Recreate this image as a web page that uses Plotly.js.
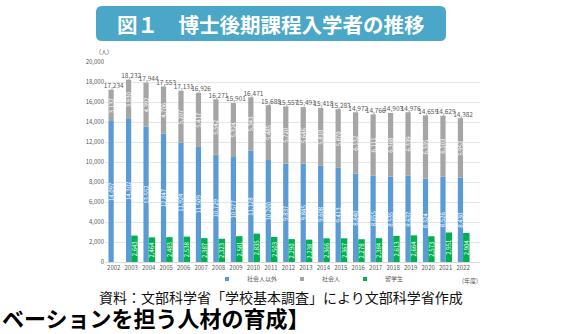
<!DOCTYPE html>
<html>
<head>
<meta charset="utf-8">
<script src="https://cdn.plot.ly/plotly-3.0.1.min.js"></script>
<style>html,body{margin:0;padding:0;background:#fff;}#chart{width:572px;height:334px;}</style>
</head>
<body>
<div id="chart"></div>
<script>
// ---- data ----
const years = ['2002','2003','2004','2005','2006','2007','2008','2009','2010','2011','2012','2013','2014','2015','2016','2017','2018','2019','2020','2021','2022'];
const nonWorking = [14097,14302,13552,12847,11924,11509,10729,10577,11128,10200,9837,9845,9608,9413,8840,8655,8535,8637,8324,8526,8430]; // 社会人以外
const working    = [3137,3930,4392,4706,5207,5417,5542,5324,5343,5485,5720,5646,5810,5870,6132,6111,6368,6339,6335,6103,5952];     // 社会人
const intl       = [null,2643,2464,2483,2538,2387,2323,2581,2835,2503,2290,2238,2366,2367,2278,2384,2613,2664,2573,2951,2904]; // 留学生
const totals     = [17234,18232,17944,17553,17131,16926,16271,15901,16471,15685,15557,15491,15418,15283,14972,14766,14903,14976,14659,14629,14382];
const seriesNames = ['社会人以外','社会人','留学生'];

// ---- helpers (layout only) ----
const W = 572, H = 334, L = 105, R = 92, T = 62, B = 72;
const pw = W - L - R, ph = H - T - B;
const px = x => (x - L) / pw;
const py = y => (H - B - y) / ph;
const fmt = v => v == null ? '' : v.toLocaleString('en-US');
const FONT = 'Noto Sans CJK JP, Noto Sans, sans-serif';
const colors = ['#5B9BD5', '#A5A5A5', '#00B050'];

const inText = {size: 6, color: '#FFFFFF', family: FONT};
const common = {type: 'bar', textposition: 'inside', textangle: -90, insidetextanchor: 'middle',
  constraintext: 'none', insidetextfont: inText, showlegend: false, hoverinfo: 'skip'};

const traces = [
  Object.assign({}, common, {x: years, y: nonWorking, offset: -0.3, width: 0.3,
    marker: {color: colors[0]}, text: nonWorking.map(fmt)}),
  Object.assign({}, common, {x: years, y: working, base: nonWorking, offset: -0.3, width: 0.3,
    marker: {color: colors[1]}, text: working.map(fmt)}),
  Object.assign({}, common, {x: years, y: intl, offset: 0, width: 0.37,
    marker: {color: colors[2]}, text: intl.map(fmt)}),
  {type: 'scatter', mode: 'text', x: years, y: totals, text: totals.map(fmt),
    textposition: 'top center', textfont: {size: 6.5, color: '#595959', family: FONT},
    showlegend: false, hoverinfo: 'skip', cliponaxis: false}
];
seriesNames.forEach((n, i) => traces.push({type: 'scatter', mode: 'markers', x: [null], y: [null],
  name: n, marker: {symbol: 'square', size: 4, color: colors[i]}, showlegend: true}));

// rounded banner path in paper coordinates
function roundRect(x0, y0, x1, y1, r) {
  const X0 = px(x0), X1 = px(x1), Y0 = py(y1), Y1 = py(y0);
  const rx = r / pw, ry = r / ph;
  return `M${X0+rx},${Y0} L${X1-rx},${Y0} Q${X1},${Y0} ${X1},${Y0+ry} L${X1},${Y1-ry} Q${X1},${Y1} ${X1-rx},${Y1} ` +
         `L${X0+rx},${Y1} Q${X0},${Y1} ${X0},${Y1-ry} L${X0},${Y0+ry} Q${X0},${Y0} ${X0+rx},${Y0} Z`;
}

const layout = {
  width: W, height: H,
  margin: {l: L, r: R, t: T, b: B, pad: 0},
  paper_bgcolor: '#FFFFFF', plot_bgcolor: '#FFFFFF',
  font: {family: FONT, color: '#595959', size: 6},
  barmode: 'overlay',
  xaxis: {type: 'category', range: [-0.5, 20.97], showgrid: false, showline: true,
    linecolor: '#D9D9D9', linewidth: 1, ticks: '', tickfont: {size: 6, color: '#595959'}, fixedrange: true},
  yaxis: {range: [0, 20000], dtick: 2000, tickformat: ',d', gridcolor: '#E6E6E6', gridwidth: 1,
    zeroline: false, showline: false, ticks: '', tickfont: {size: 6, color: '#595959'}, fixedrange: true},
  showlegend: true,
  legend: {orientation: 'h', x: px(207), xanchor: 'left', y: py(279), yanchor: 'middle',
    font: {size: 6, color: '#595959'}, itemwidth: 30, bgcolor: 'rgba(0,0,0,0)', tracegroupgap: 0},
  shapes: [{type: 'path', xref: 'paper', yref: 'paper', path: roundRect(96, 6, 446, 41, 6),
    fillcolor: '#4AA7C7', line: {width: 0}, layer: 'above'}],
  annotations: [
    {xref: 'paper', yref: 'paper', x: px(271), y: py(23.5), xanchor: 'center', yanchor: 'middle',
      text: '<b>図１　博士後期課程入学者の推移</b>', showarrow: false,
      font: {size: 20.5, color: '#FFFFFF', family: FONT}},
    {xref: 'paper', yref: 'paper', x: px(104), y: py(52), xanchor: 'center', yanchor: 'middle',
      text: '(人)', showarrow: false, font: {size: 6, color: '#595959', family: FONT}},
    {xref: 'paper', yref: 'paper', x: px(470), y: py(280), xanchor: 'center', yanchor: 'middle',
      text: '(年度)', showarrow: false, font: {size: 6, color: '#595959', family: FONT}},
    {xref: 'paper', yref: 'paper', x: px(281), y: py(297), xanchor: 'center', yanchor: 'middle',
      text: '資料：文部科学省「学校基本調査」により文部科学省作成', showarrow: false,
      font: {size: 14, color: '#111111', family: FONT}},
    {xref: 'paper', yref: 'paper', x: px(312), y: py(299), xanchor: 'right', yanchor: 'top',
      text: '<b>【イノベーションを担う人材の育成】</b>', showarrow: false,
      font: {size: 22, color: '#000000', family: FONT}}
  ]
};

Plotly.newPlot('chart', traces, layout, {displayModeBar: false, staticPlot: true});
</script>
</body>
</html>
